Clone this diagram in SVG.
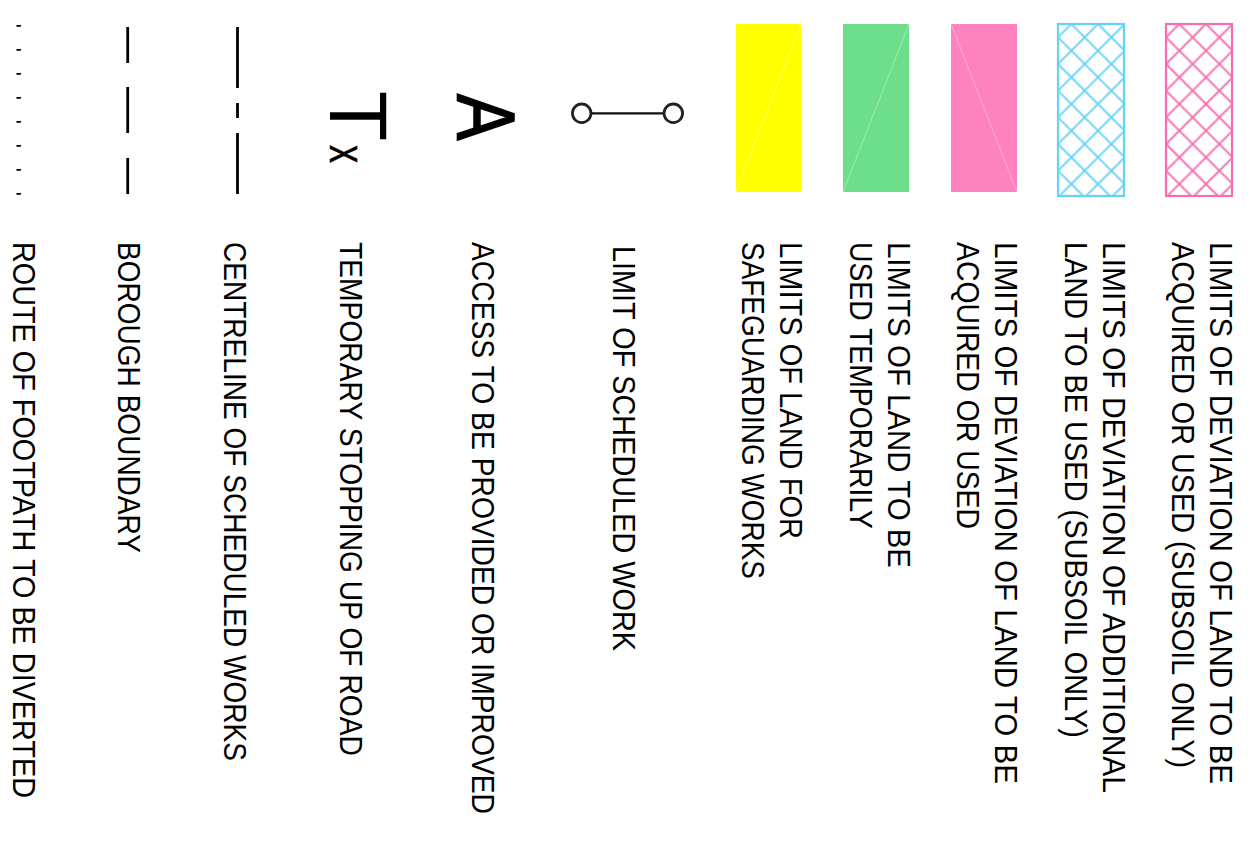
<svg xmlns="http://www.w3.org/2000/svg" width="1250" height="860" viewBox="0 0 1250 860">
<style>
.lbl{font-family:"Liberation Sans",Arial,sans-serif;font-size:30.5px;fill:#000;}
.big{font-family:"Liberation Sans",Arial,sans-serif;fill:#000;}
.faint{stroke:#ffffff;stroke-opacity:0.45;stroke-width:0.8;fill:none;}
.dash{stroke:#000;stroke-width:2.8;fill:none;}
</style>
<defs>
<pattern id="hatchPink" patternUnits="userSpaceOnUse" width="18.86" height="18.86" patternTransform="translate(1166,24) rotate(45)">
<line x1="0" y1="9.43" x2="18.86" y2="9.43" stroke="#f46eb0" stroke-width="1.9"/>
<line x1="9.43" y1="0" x2="9.43" y2="18.86" stroke="#f46eb0" stroke-width="1.9"/>
</pattern>
<pattern id="hatchBlue" patternUnits="userSpaceOnUse" width="18.86" height="18.86" patternTransform="translate(1058,24) rotate(45)">
<line x1="0" y1="9.43" x2="18.86" y2="9.43" stroke="#66d3f6" stroke-width="1.9"/>
<line x1="9.43" y1="0" x2="9.43" y2="18.86" stroke="#66d3f6" stroke-width="1.9"/>
</pattern>
</defs>
<rect width="1250" height="860" fill="#fff"/>

<g id="deviation-subsoil">
<rect x="1166" y="24" width="66" height="172" fill="url(#hatchPink)" stroke="#f46eb0" stroke-width="2.2"/>
<text class="lbl" transform="translate(1210,242) rotate(90)" textLength="542" lengthAdjust="spacingAndGlyphs">LIMITS OF DEVIATION OF LAND TO BE</text>
<text class="lbl" transform="translate(1172,242) rotate(90)" textLength="526" lengthAdjust="spacingAndGlyphs">ACQUIRED OR USED (SUBSOIL ONLY)</text>
</g>

<g id="deviation-additional">
<rect x="1058" y="24" width="66" height="172" fill="url(#hatchBlue)" stroke="#66d3f6" stroke-width="2.2"/>
<text class="lbl" transform="translate(1103,242) rotate(90)" textLength="551" lengthAdjust="spacingAndGlyphs">LIMITS OF DEVIATION OF ADDITIONAL</text>
<text class="lbl" transform="translate(1065,242) rotate(90)" textLength="496" lengthAdjust="spacingAndGlyphs">LAND TO BE USED (SUBSOIL ONLY)</text>
</g>

<g id="deviation-acquired">
<rect x="951" y="24" width="66" height="168" fill="#ff82c0"/>
<line class="faint" x1="951" y1="24" x2="1017" y2="192"/>
<text class="lbl" transform="translate(995,242) rotate(90)" textLength="542" lengthAdjust="spacingAndGlyphs">LIMITS OF DEVIATION OF LAND TO BE</text>
<text class="lbl" transform="translate(957,242) rotate(90)" textLength="287" lengthAdjust="spacingAndGlyphs">ACQUIRED OR USED</text>
</g>

<g id="land-temporary">
<rect x="843" y="24" width="66" height="168" fill="#6ddf8a"/>
<line class="faint" x1="843" y1="192" x2="909" y2="24"/>
<text class="lbl" transform="translate(888,242) rotate(90)" textLength="326" lengthAdjust="spacingAndGlyphs">LIMITS OF LAND TO BE</text>
<text class="lbl" transform="translate(850,242) rotate(90)" textLength="287" lengthAdjust="spacingAndGlyphs">USED TEMPORARILY</text>
</g>

<g id="land-safeguarding">
<rect x="736" y="24" width="65" height="168" fill="#ffff00"/>
<line class="faint" x1="736" y1="192" x2="801" y2="24"/>
<text class="lbl" transform="translate(780,242) rotate(90)" textLength="297" lengthAdjust="spacingAndGlyphs">LIMITS OF LAND FOR</text>
<text class="lbl" transform="translate(742,242) rotate(90)" textLength="337" lengthAdjust="spacingAndGlyphs">SAFEGUARDING WORKS</text>
</g>

<g id="scheduled-work">
<line x1="591" y1="113.3" x2="664" y2="113.3" stroke="#111" stroke-width="2.2"/>
<circle cx="581.7" cy="113.3" r="9.3" fill="#fff" stroke="#222" stroke-width="2.8"/>
<circle cx="673.3" cy="113.3" r="9.3" fill="#fff" stroke="#222" stroke-width="2.8"/>
<text class="lbl" transform="translate(613,246) rotate(90)" textLength="405" lengthAdjust="spacingAndGlyphs">LIMIT OF SCHEDULED WORK</text>
</g>

<g id="access">
<text class="big" font-size="81" stroke="#000" stroke-width="1.6" transform="translate(458,94) rotate(90) scale(0.86,1)">A</text>
<text class="lbl" transform="translate(472,242) rotate(90)" textLength="572" lengthAdjust="spacingAndGlyphs">ACCESS TO BE PROVIDED OR IMPROVED</text>
</g>

<g id="temporary-stopping">
<text class="big" font-size="82" transform="translate(330,91) rotate(90)">T</text>
<text class="big" font-size="50" stroke="#000" stroke-width="0.5" transform="translate(330,145) rotate(90) scale(0.72,1)">x</text>
<text class="lbl" transform="translate(340,242) rotate(90)" textLength="514" lengthAdjust="spacingAndGlyphs">TEMPORARY STOPPING UP OF ROAD</text>
</g>

<g id="centreline">
<line class="dash" x1="237.5" y1="27" x2="237.5" y2="88"/>
<line class="dash" x1="237.5" y1="103" x2="237.5" y2="118"/>
<line class="dash" x1="237.5" y1="133" x2="237.5" y2="194"/>
<text class="lbl" transform="translate(224,242) rotate(90)" textLength="519" lengthAdjust="spacingAndGlyphs">CENTRELINE OF SCHEDULED WORKS</text>
</g>

<g id="borough-boundary">
<line class="dash" x1="127.7" y1="27" x2="127.7" y2="63"/>
<line class="dash" x1="127.7" y1="87" x2="127.7" y2="133"/>
<line class="dash" x1="127.7" y1="158" x2="127.7" y2="194"/>
<text class="lbl" transform="translate(118,242) rotate(90)" textLength="311" lengthAdjust="spacingAndGlyphs">BOROUGH BOUNDARY</text>
</g>

<g id="footpath">
<line x1="18.7" y1="25" x2="18.7" y2="196" stroke="#000" stroke-width="4.5" stroke-dasharray="1.8 22.2"/>
<text class="lbl" transform="translate(13,242) rotate(90)" textLength="556" lengthAdjust="spacingAndGlyphs">ROUTE OF FOOTPATH TO BE DIVERTED</text>
</g>
</svg>
